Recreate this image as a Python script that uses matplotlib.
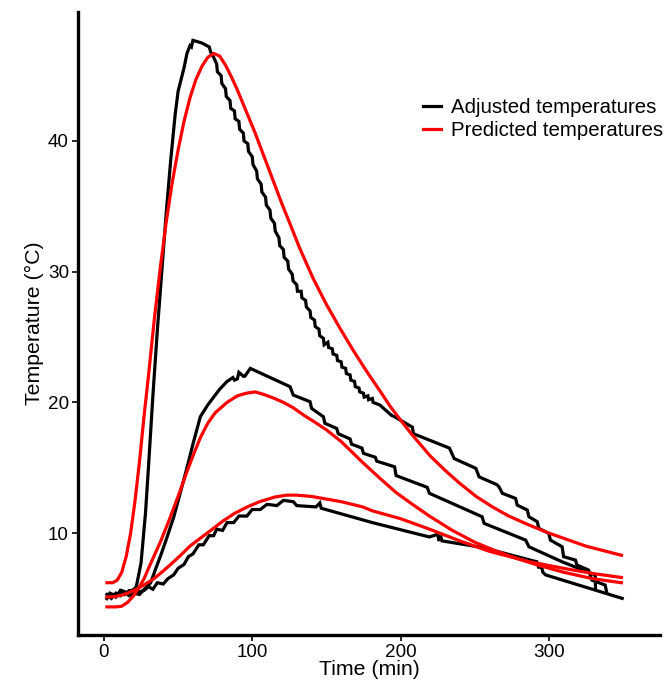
import matplotlib
matplotlib.use("Agg")
import matplotlib.pyplot as plt

plt.rcParams['font.family'] = ['Liberation Sans', 'DejaVu Sans']

# adjusted (measured) temperatures, three runs
high_t = [2, 5, 8, 11, 14, 17, 20, 22, 25, 28, 30, 33, 36, 39, 42, 45, 48, 50, 52, 54, 56, 58, 59, 60, 66, 71, 72, 74,
          76, 76.5, 79, 79.5, 82, 82.5, 85, 85.5, 88, 88.5, 91, 91.5, 94, 94.5, 97, 97.5, 100, 100.5, 103, 103.5,
          106, 106.5, 109, 109.5, 112, 112.5, 115, 115.5, 118, 118.5, 121, 121.5, 124, 124.5, 127, 127.5, 130, 130.5,
          133, 133.5, 136, 136.5, 139, 139.5, 142, 142.5, 145, 145.5, 148, 148.5, 151, 151.5, 154, 154.5, 157, 157.5,
          160, 160.5, 163, 163.5, 166, 166.5, 169, 169.5, 172, 172.5, 175, 175.5, 178, 178.5, 181, 181.5, 186, 194,
          196, 208, 208.7, 233, 236.2, 250.8, 253, 265, 266.4, 268.7, 277.6, 278.7, 285.5, 286.6, 292.2, 293.3, 300,
          301.1, 309, 310, 318, 319, 326.8, 329, 338, 339]
high_T = [5.0, 5.3, 5.1, 5.6, 5.3, 5.6, 5.5, 6.0, 7.7, 11.5, 15.0, 20.5, 25.5, 30.0, 34.5, 38.5, 42.0, 43.8, 44.7, 45.6,
          46.7, 47.3, 47.2, 47.7, 47.5, 47.2, 46.8, 46.4,
          45.9, 45.3, 45.0, 44.4, 44.0, 43.4, 43.1, 42.5, 42.3, 41.7, 41.5, 40.9, 40.6, 40.0, 39.8, 39.2, 38.8, 38.2,
          37.7, 37.1, 36.7, 36.1, 35.7, 35.1, 34.7, 34.1, 33.7, 33.1, 32.6, 32.0, 31.7, 31.1, 30.8, 30.2, 29.8, 29.3,
          29.0, 28.5, 28.5, 28.0, 27.8, 27.3, 27.0, 26.5, 26.3, 25.8, 25.6, 25.1, 24.9, 24.4, 24.6, 24.2, 24.1, 23.7,
          23.6, 23.2, 23.1, 22.7, 22.6, 22.2, 22.1, 21.7, 21.6, 21.2, 21.1, 20.8, 20.7, 20.4, 20.5, 20.2, 20.3, 20.0,
          19.8, 19.0, 18.9, 18.1, 17.6, 16.5, 15.7, 14.95, 14.3, 13.7, 13.54, 13.04, 12.65, 12.14, 11.76, 11.25, 10.87,
          10.36, 9.97, 9.46, 8.95, 8.19, 7.93, 7.55, 7.17, 6.4, 6.02, 5.5]

mid_t = [2, 5, 8, 11, 14, 17, 20, 24, 28, 31.5, 35, 38, 42, 47, 52, 56, 60, 65, 70, 74, 78, 83, 87, 88, 90, 91, 94, 95,
         98.7, 125.5, 127.7, 139, 140, 148, 149, 157, 158, 166, 167, 174, 175, 183, 184, 196, 197, 218, 219.5, 255,
         256.4, 284.4, 286.6, 309, 331.3, 331.5]
mid_T = [5.3, 5.0, 5.4, 5.2, 5.5, 5.2, 5.4, 5.3, 5.8, 6.2, 7.3, 8.2, 9.5, 11.2, 13.3, 15.0, 16.8, 18.9, 19.8, 20.4, 21.0,
         21.6, 21.9, 21.7, 21.8, 22.3, 22.0, 22.0, 22.6, 21.2, 20.56, 20.05, 19.54, 18.9, 18.4, 18.0, 17.6, 17.2, 16.8,
         16.5, 16.1, 15.8, 15.5, 15.07, 14.4, 13.5, 13.04, 11.25, 10.74, 9.46, 8.95, 7.8, 6.79, 5.77]

low_t = [2, 4, 8, 12, 16, 20, 24, 27, 30, 33, 36, 40, 43, 47, 50, 54, 57, 60, 64, 67, 71, 74, 76, 80, 83, 87.5, 91, 96.4,
         100, 105.4, 110, 116.6, 121, 127.7, 130, 143, 145.6, 146.5, 181, 219.5, 225, 226, 227, 228, 255, 292, 293.3,
         294.5, 296, 297.8, 349.5]
low_T = [5.0, 5.4, 5.2, 5.6, 5.4, 5.7, 5.5, 5.6, 5.9, 5.7, 6.2, 6.1, 6.5, 6.8, 7.3, 7.6, 8.2, 8.4, 9.1, 9.1, 9.8, 9.8,
         10.3, 10.2, 10.8, 10.8, 11.3, 11.3, 11.8, 11.8, 12.2, 12.1, 12.5, 12.4, 12.1, 12.0, 12.3, 11.9, 10.8, 9.7,
         9.9, 9.4, 9.8, 9.4, 8.9, 7.8, 7.3, 7.7, 7.0, 6.8, 5.0]

# predicted temperatures
pred_high_t = [2, 6, 9, 12, 15, 18, 21, 24, 27, 30, 34, 38, 42, 46, 50, 54, 58, 62, 66, 70, 74, 78, 82, 86, 90, 94,
               98, 102, 106, 110, 115, 120, 125, 132, 141, 150, 159, 168, 177, 186, 193, 201, 208, 220, 231, 240,
               251, 262, 273, 287, 300, 325, 349]
pred_high_T = [6.2, 6.2, 6.4, 7.0, 8.2, 10.0, 12.5, 15.5, 18.9, 22.0, 26.4, 30.3, 33.8, 36.8, 39.3, 41.5, 43.3, 44.7,
               45.7, 46.4, 46.7, 46.5, 45.8, 44.9, 43.9, 42.8, 41.7, 40.6, 39.4, 38.2, 36.7, 35.2, 33.8, 31.8, 29.5,
               27.5, 25.7, 24.0, 22.4, 20.9, 19.7, 18.5, 17.5, 15.9, 14.7, 13.8, 12.8, 12.0, 11.3, 10.6, 10.0, 9.0, 8.3]

pred_mid_t = [2, 8, 12, 16, 20, 24, 27, 32, 38, 44, 50, 56, 60, 65, 70, 75, 83, 90, 96, 102, 108, 115, 121, 127.5, 135,
              142, 150, 160, 174.5, 186, 197, 208, 219.5, 235, 250, 265, 280, 291, 310, 330, 349]
pred_mid_T = [4.35, 4.35, 4.4, 4.7, 5.2, 5.9, 6.5, 7.8, 9.3, 11.0, 12.8, 14.7, 15.9, 17.3, 18.4, 19.2, 20.0, 20.5, 20.7,
              20.8, 20.6, 20.3, 20.0, 19.6, 19.0, 18.5, 17.9, 17.0, 15.4, 14.2, 13.1, 12.2, 11.3, 10.2, 9.3, 8.6, 8.0,
              7.6, 7.0, 6.5, 6.2]

pred_low_t = [2, 8, 12, 16, 22, 28, 33.6, 40, 46, 51.7, 58, 65, 72, 80, 88, 96.6, 105, 115, 123, 130, 140, 150, 160,
              174.5, 181, 200, 219.5, 240, 260, 287, 310, 330, 349]
pred_low_T = [5.1, 5.15, 5.25, 5.4, 5.7, 6.1, 6.5, 7.1, 7.7, 8.3, 9.0, 9.6, 10.2, 10.9, 11.5, 12.0, 12.4, 12.75, 12.9,
              12.9, 12.8, 12.6, 12.4, 12.0, 11.7, 11.1, 10.3, 9.4, 8.6, 7.8, 7.3, 6.9, 6.6]

x_ticks = [0, 100, 200, 300]
y_ticks = [10, 20, 30, 40]

fig = plt.figure(figsize=(6.68, 6.83), dpi=100)
ax = fig.add_axes([78 / 668, 0.0703, 582 / 668, 0.9127])

lw = 2.3
ax.plot(high_t, high_T, color='black', lw=lw, label='Adjusted temperatures', solid_joinstyle='miter')
ax.plot(mid_t, mid_T, color='black', lw=lw, solid_joinstyle='miter')
ax.plot(low_t, low_T, color='black', lw=lw, solid_joinstyle='miter')
ax.plot(pred_high_t, pred_high_T, color='#ff0000', lw=lw, label='Predicted temperatures')
ax.plot(pred_mid_t, pred_mid_T, color='#ff0000', lw=lw)
ax.plot(pred_low_t, pred_low_T, color='#ff0000', lw=lw)

ax.set_xlim(-17.5, 375)
ax.set_ylim(2.2, 49.9)
ax.set_xticks(x_ticks)
ax.set_yticks(y_ticks)
ax.tick_params(axis='both', direction='out', length=4, width=1.2, colors='black', labelsize=13.6, pad=2.5)

for s in ['top', 'right']:
    ax.spines[s].set_visible(False)
for s in ['left', 'bottom']:
    ax.spines[s].set_linewidth(2.4)
    ax.spines[s].set_color('black')

ax.set_xlabel('Time (min)', fontsize=15.3, labelpad=-1)
ax.set_ylabel('Temperature (°C)', fontsize=15.3, labelpad=3)

ax.legend(loc='upper left', bbox_to_anchor=(0.578, 0.874), frameon=False, fontsize=14.7,
          handlelength=0.9, handletextpad=0.5, labelspacing=0.2, borderaxespad=0)

fig.savefig('out.png', dpi=100)
